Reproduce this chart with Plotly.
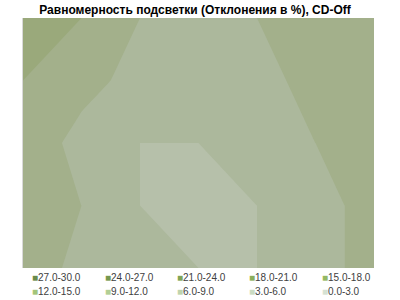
import plotly.graph_objects as go

# Measurement grid (columns left->right, rows top->bottom), deviation in %
columns = [0, 1, 2, 3, 4, 5, 6]
rows = [0, 1, 2, 3, 4]
row_0 = [10, 9, 6, 5, 6, 7, 8]
row_1 = [9, 7, 5, 4, 5, 7, 8]
row_2 = [8, 5, 3, 3, 4, 6, 8]
row_3 = [8, 6, 3, 2, 3, 5, 7]
row_4 = [8, 5, 4, 3, 3, 5, 7]
deviation = [row_0, row_1, row_2, row_3, row_4]

# Bands (low -> high)
band_labels = ["0.0-3.0", "3.0-6.0", "6.0-9.0", "9.0-12.0", "12.0-15.0",
               "15.0-18.0", "18.0-21.0", "21.0-24.0", "24.0-27.0", "27.0-30.0"]
# colours as rendered on the (shaded) surface
surface_colors = ["#b6c0aa", "#acb89c", "#a3b08b", "#9aa97b", "#8f9f6c",
                  "#86995f", "#7d9156", "#74894d", "#6b8045", "#62773d"]
# colours of the legend swatches
legend_colors = ["#d6e2d3", "#cbdcc3", "#bfd4ad", "#b2cf95", "#a3c57a",
                 "#94b862", "#8aae5c", "#80a456", "#76984f", "#6a8a4a"]

# stepped colourscale: band k occupies [(k+0.5)/11, (k+1.5)/11]
n = 11
edges = [0.0] + [(k + 0.5) / n for k in range(0, 11)] + [1.0]
cols = [surface_colors[0]] + surface_colors + [surface_colors[-1]]
cs = []
for i in range(len(cols)):
    a, b = edges[i], edges[i + 1]
    cs.append([a, cols[i]])
    cs.append([b, cols[i]])

fig = go.Figure()
fig.add_trace(go.Contour(
    x=columns, y=rows, z=deviation,
    colorscale=cs, showscale=False,
    contours=dict(start=0, end=30, size=3, coloring="fill", showlines=False),
    line=dict(width=0, smoothing=0),
    hoverinfo="skip",
))

# legend as annotations (5 columns x 2 rows)
legend_order = list(range(9, -1, -1))
col_px = [30, 103, 175, 247, 320]
row_px = [277, 291]
plot_l, plot_r, plot_t, plot_b = 23, 374, 18, 268
for idx, band in enumerate(legend_order):
    r, c = divmod(idx, 5)
    fig.add_annotation(
        xref="paper", yref="paper",
        x=(col_px[c] - plot_l) / (plot_r - plot_l),
        y=(plot_b - row_px[r]) / (plot_b - plot_t),
        xanchor="left", yanchor="middle", showarrow=False,
        text=f"<span style='color:{legend_colors[band]};font-size:10px'>■</span>{band_labels[band]}",
        font=dict(family="Liberation Sans, Arial, sans-serif", size=10, color="#404040"),
    )

fig.update_layout(
    width=400, height=300,
    margin=dict(l=plot_l, r=400 - plot_r, t=plot_t, b=300 - plot_b),
    paper_bgcolor="white", plot_bgcolor="white",
    title=dict(text="<b>Равномерность подсветки (Отклонения в %), CD-Off</b>",
               x=195 / 400, xanchor="center", y=1 - 10 / 300, yanchor="middle",
               font=dict(family="Liberation Sans, Arial, sans-serif", size=12, color="#000000")),
    xaxis=dict(range=[0, 6], visible=False, fixedrange=True),
    yaxis=dict(range=[4, 0], showticklabels=False, showgrid=False, zeroline=False,
               showline=True, linecolor="#d9d9d9", linewidth=1, ticks="", fixedrange=True),
    showlegend=False,
)

fig.write_html("out.html")
